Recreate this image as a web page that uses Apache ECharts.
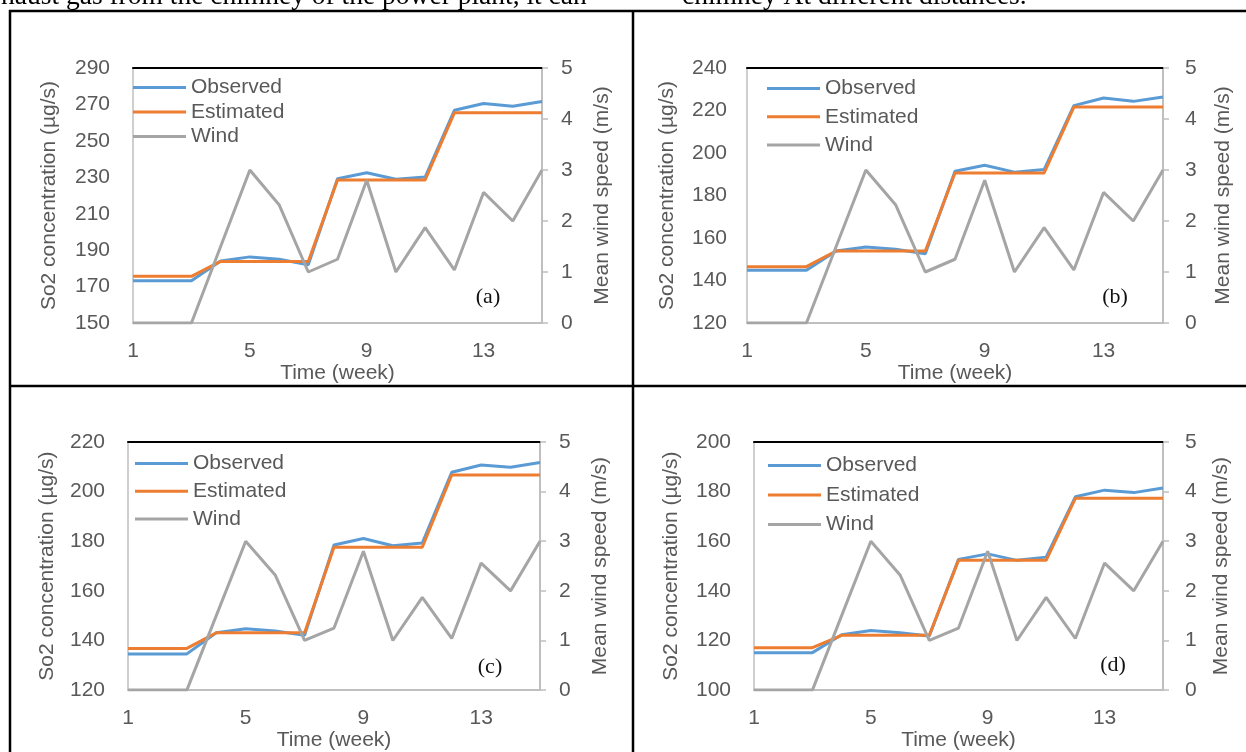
<!DOCTYPE html>
<html>
<head>
<meta charset="utf-8">
<script src="https://cdn.jsdelivr.net/npm/echarts@6/dist/echarts.min.js"></script>
<style>
html,body{margin:0;padding:0;background:#fff;}
#c{width:1246px;height:752px;}
</style>
</head>
<body>
<div id="c"></div>
<script>
// ---------- data ----------
const weeks = ['1','2','3','4','5','6','7','8','9','10','11','12','13','14','15'];
const seriesNames = ['Observed', 'Estimated', 'Wind'];
const panelTags = ['(a)', '(b)', '(c)', '(d)'];

const observedA = [173.2,173.2,173.2,184.1,186.3,185.0,182.0,229.2,232.5,228.9,230.1,266.8,270.5,269.0,271.6];
const estimatedA = [175.6,175.6,175.6,183.8,183.8,183.8,183.8,228.5,228.5,228.5,228.5,265.4,265.4,265.4,265.4];
const observedB = [144.8,144.8,144.8,153.9,155.8,154.7,152.6,191.4,194.2,191.0,192.2,222.3,225.9,224.3,226.4];
const estimatedB = [146.5,146.5,146.5,153.9,153.9,153.9,153.9,190.6,190.6,190.6,190.6,221.6,221.6,221.6,221.6];
const observedC = [134.6,134.6,134.6,143.1,144.7,143.8,142.1,178.5,181.1,178.2,179.3,207.8,210.7,209.8,211.7];
const estimatedC = [136.8,136.8,136.8,143.1,143.1,143.1,143.1,177.6,177.6,177.6,177.6,206.7,206.7,206.7,206.7];
const observedD = [115.1,115.1,115.1,122.3,124.0,123.1,121.8,152.7,154.9,152.3,153.6,177.9,180.6,179.6,181.5];
const estimatedD = [117.1,117.1,117.1,122.1,122.1,122.1,122.1,152.3,152.3,152.3,152.3,177.3,177.3,177.3,177.3];
const windSpeed = [0,0,0,1.5,3.0,2.32,1.0,1.25,2.8,1.0,1.87,1.04,2.56,2.0,3.0];

const concMin = [150, 120, 120, 100];
const concMax = [290, 240, 220, 200];
const concStep = [20, 20, 20, 20];
const windMin = 0, windMax = 5, windStep = 1;

const leftAxisName = 'So2 concentration (µg/s)';
const rightAxisName = 'Mean wind speed (m/s)';
const xAxisName = 'Time (week)';
const topTextLeft = 'haust gas from the chimney of the power plant, it can';
const topTextRight = 'chimney At different distances.';

const observedAll = [observedA, observedB, observedC, observedD];
const estimatedAll = [estimatedA, estimatedB, estimatedC, estimatedD];

// ---------- layout / style ----------
const FONT = '"Liberation Sans", Arial, sans-serif';
const SERIF = '"Liberation Serif", "Times New Roman", serif';
const TXT = '#595959';
const AX = '#BFBFBF';
const COLORS = ['#5B9BD5', '#ED7D31', '#A5A5A5'];

const layout = [
  {left:133, top:68,  width:409, height:255, lm:23, ng:73.5, rm:19, rg:49.5, legL:133, legT:77,  legG:3.5, tx:488,  ty:297},
  {left:747, top:68,  width:416, height:255, lm:20, ng:69.5, rm:22, rg:50,   legL:767, legT:78,  legG:7.3, tx:1115, ty:297},
  {left:128, top:442, width:412, height:254, lm:23, ng:70.5, rm:19, rg:49.5, legL:135, legT:453, legG:6.7, tx:490,  ty:667},
  {left:754, top:442, width:409, height:254, lm:23, ng:72.5, rm:22, rg:47.5, legL:768, legT:455, legG:8.5, tx:1113, ty:665}
];

const grid = [], xAxis = [], yAxis = [], series = [], legend = [], graphic = [];

layout.forEach((l, i) => {
  grid.push({left:l.left, top:l.top, width:l.width, height:l.height});
  xAxis.push({
    type:'category', gridIndex:i, data:weeks, boundaryGap:false, position:'bottom',
    axisLine:{show:true, lineStyle:{color:AX, width:2}},
    axisTick:{show:false},
    axisLabel:{interval:3, margin:18, color:TXT, fontSize:21, fontFamily:FONT},
    name:xAxisName, nameLocation:'middle', nameGap:34,
    nameTextStyle:{color:TXT, fontSize:21, fontFamily:FONT},
    splitLine:{show:false}
  });
  xAxis.push({
    type:'category', gridIndex:i, data:weeks, boundaryGap:false, position:'top',
    axisLine:{show:true, lineStyle:{color:'#000', width:2}},
    axisTick:{show:false}, axisLabel:{show:false}, splitLine:{show:false}
  });
  yAxis.push({
    type:'value', gridIndex:i, position:'left',
    min:concMin[i], max:concMax[i], interval:concStep[i],
    axisLine:{show:true, lineStyle:{color:AX, width:1.5}},
    axisTick:{show:false},
    axisLabel:{margin:l.lm, color:TXT, fontSize:21, fontFamily:FONT},
    splitLine:{show:false},
    name:leftAxisName, nameLocation:'middle', nameGap:l.ng,
    nameTextStyle:{color:TXT, fontSize:21, fontFamily:FONT}
  });
  yAxis.push({
    type:'value', gridIndex:i, position:'right',
    min:windMin, max:windMax, interval:windStep,
    axisLine:{show:true, lineStyle:{color:AX, width:2}},
    axisTick:{show:true, inside:false, length:6, lineStyle:{color:AX, width:1.5}},
    axisLabel:{margin:l.rm, color:TXT, fontSize:21, fontFamily:FONT},
    splitLine:{show:false},
    name:rightAxisName, nameLocation:'middle', nameGap:l.rg,
    nameTextStyle:{color:TXT, fontSize:21, fontFamily:FONT}
  });

  const lineCommon = {type:'line', symbol:'none', showSymbol:false, xAxisIndex:2*i, animation:false};
  series.push(Object.assign({}, lineCommon, {name:seriesNames[0], yAxisIndex:2*i, data:observedAll[i],
    lineStyle:{color:COLORS[0], width:3}, itemStyle:{color:COLORS[0]}, z:2}));
  series.push(Object.assign({}, lineCommon, {name:seriesNames[1], yAxisIndex:2*i, data:estimatedAll[i],
    lineStyle:{color:COLORS[1], width:3}, itemStyle:{color:COLORS[1]}, z:3}));
  series.push(Object.assign({}, lineCommon, {name:seriesNames[2], yAxisIndex:2*i+1, data:windSpeed,
    lineStyle:{color:COLORS[2], width:3}, itemStyle:{color:COLORS[2]}, z:4}));

  legend.push({
    orient:'vertical', left:l.legL, top:l.legT, itemWidth:53, itemHeight:3, itemGap:l.legG,
    padding:0, selectedMode:false, icon:'rect',
    data:seriesNames,
    textStyle:{color:TXT, fontSize:21, fontFamily:FONT, lineHeight:21, padding:[0,0,0,0]}
  });

  graphic.push({type:'text', x:l.tx, y:l.ty,
    style:{text:panelTags[i], x:0, y:0, fill:'#111', fontSize:22, fontFamily:SERIF, align:'center', verticalAlign:'middle'}});
});

const B = '#000';
[[9,11,1246,11],[10,10,10,752],[633,10,633,752],[9,386,1246,386]].forEach(s => {
  graphic.push({type:'line', shape:{x1:s[0], y1:s[1], x2:s[2], y2:s[3]}, style:{stroke:B, lineWidth:2.5}});
});
graphic.push({type:'text', x:1, y:-3.5, style:{text:topTextLeft, fill:'#000', fontSize:27.5, fontFamily:SERIF, verticalAlign:'middle'}});
graphic.push({type:'text', x:682, y:-3.5, style:{text:topTextRight, fill:'#000', fontSize:27.5, fontFamily:SERIF, verticalAlign:'middle'}});

const chart = echarts.init(document.getElementById('c'), null, {renderer:'canvas'});
chart.setOption({
  animation:false,
  backgroundColor:'#fff',
  grid, xAxis, yAxis, series, legend, graphic
});
</script>
</body>
</html>
